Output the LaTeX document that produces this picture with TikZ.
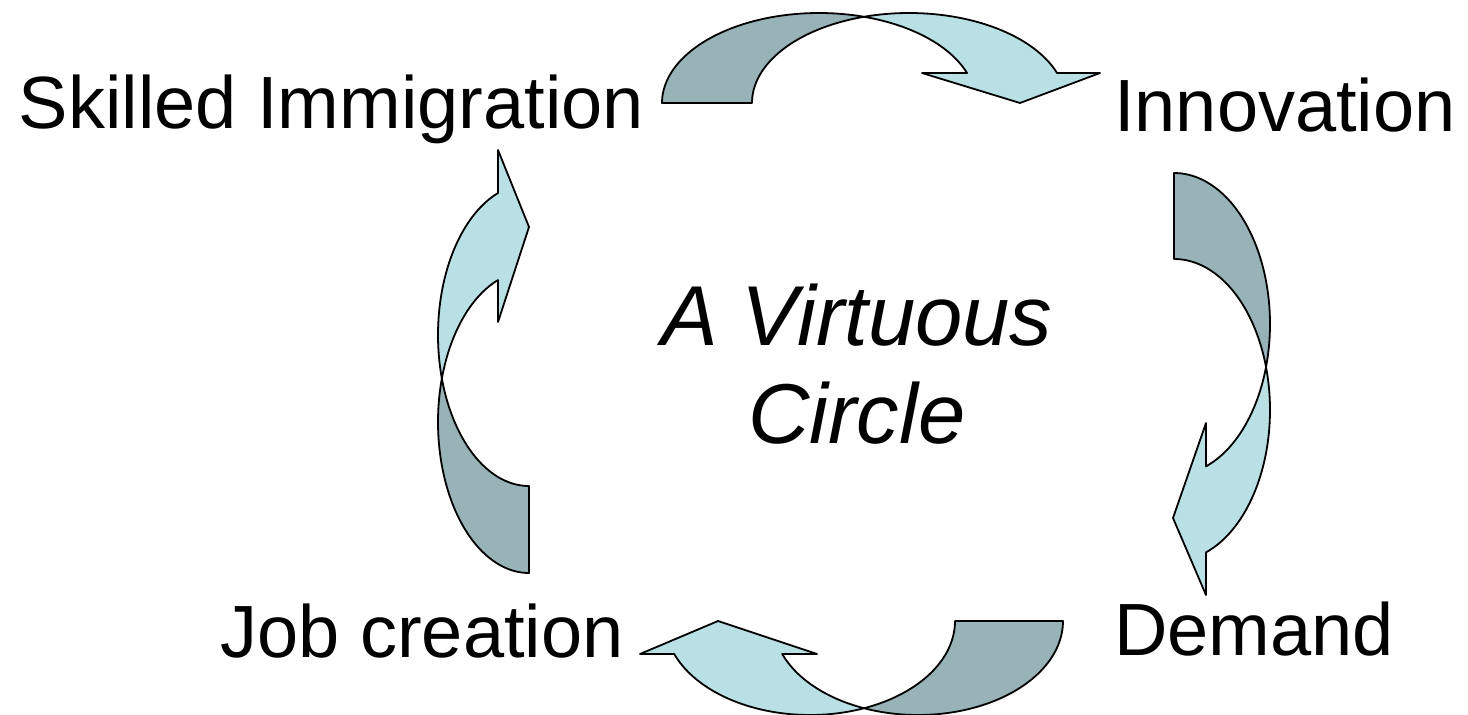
\documentclass[tikz,border=0pt]{standalone}
\usepackage{fontspec}
\setmainfont{Liberation Sans}
\definecolor{darkband}{HTML}{97B3B7}
\definecolor{lightband}{HTML}{B9E0E4}
\tikzset{
  band/.style={draw=black, line width=1.8pt, line join=round},
  bandback/.style={band, fill=darkband},
  bandfront/.style={band, fill=lightband},
  lbl/.style={font=\fontsize{74}{88}\selectfont, inner sep=0pt, anchor=base},
  ctr/.style={font=\fontsize{85}{98}\selectfont\itshape, inner sep=0pt, anchor=base}
}
\begin{document}
\begin{tikzpicture}[x=1pt,y=-1pt]
\useasboundingbox (0,0) rectangle (1468,715);
% ---- top arrow (Skilled Immigration -> Innovation)
\path[bandback] plot[domain=180:73.35, samples=60, variable=\t] ({819+157*cos(\t)},{103-90*sin(\t)})
  -- plot[domain=106.65:180, samples=60, variable=\t] ({909+157*cos(\t)},{103-90*sin(\t)}) -- cycle;
\path[bandfront] plot[domain=106.65:19.47, samples=60, variable=\t] ({909+157*cos(\t)},{103-90*sin(\t)})
  -- (1100,73) -- (1020,103) -- (922,73)
  -- plot[domain=19.47:73.35, samples=40, variable=\t] ({819+157*cos(\t)},{103-90*sin(\t)}) -- cycle;
% ---- right arrow (Innovation -> Demand)
\path[bandback] plot[domain=0:106.55, samples=60, variable=\t] ({1174+96*sin(\t)},{324-151*cos(\t)})
  -- plot[domain=73.45:0, samples=60, variable=\t] ({1174+96*sin(\t)},{410-151*cos(\t)}) -- cycle;
\path[bandfront] plot[domain=73.45:160.53, samples=60, variable=\t] ({1174+96*sin(\t)},{410-151*cos(\t)})
  -- (1206,595) -- (1173,518) -- (1206,423)
  -- plot[domain=160.53:106.55, samples=40, variable=\t] ({1174+96*sin(\t)},{324-151*cos(\t)}) -- cycle;
% ---- bottom arrow (Demand -> Job creation)
\path[bandback] plot[domain=0:111.86, samples=60, variable=\t] ({918+145*cos(\t)},{621+94*sin(\t)})
  -- plot[domain=68.14:0, samples=60, variable=\t] ({810+145*cos(\t)},{621+94*sin(\t)}) -- cycle;
\path[bandfront] plot[domain=68.14:159.45, samples=60, variable=\t] ({810+145*cos(\t)},{621+94*sin(\t)})
  -- (640,654) -- (718,621) -- (817,654)
  -- plot[domain=159.45:111.86, samples=40, variable=\t] ({918+145*cos(\t)},{621+94*sin(\t)}) -- cycle;
% ---- left arrow (Job creation -> Skilled Immigration)
\path[bandback] plot[domain=0:106.74, samples=60, variable=\t] ({529-91*sin(\t)},{422+151*cos(\t)})
  -- plot[domain=73.26:0, samples=60, variable=\t] ({529-91*sin(\t)},{335+151*cos(\t)}) -- cycle;
\path[bandfront] plot[domain=73.26:160.08, samples=60, variable=\t] ({529-91*sin(\t)},{335+151*cos(\t)})
  -- (498,150) -- (529,227) -- (498,322)
  -- plot[domain=160.08:106.74, samples=40, variable=\t] ({529-91*sin(\t)},{422+151*cos(\t)}) -- cycle;
% ---- labels
\node[lbl] (skilled) at (331.5,128) {Skilled Immigration};
\node[lbl] (innov) at (1285,131) {Innovation};
\node[lbl] (demand) at (1254,655) {Demand};
\node[lbl] (job) at (422,657) {Job creation};
\node[ctr] (virt) at (857,345) {A Virtuous};
\node[ctr] (circ) at (857,443) {Circle};
\end{tikzpicture}
\end{document}
